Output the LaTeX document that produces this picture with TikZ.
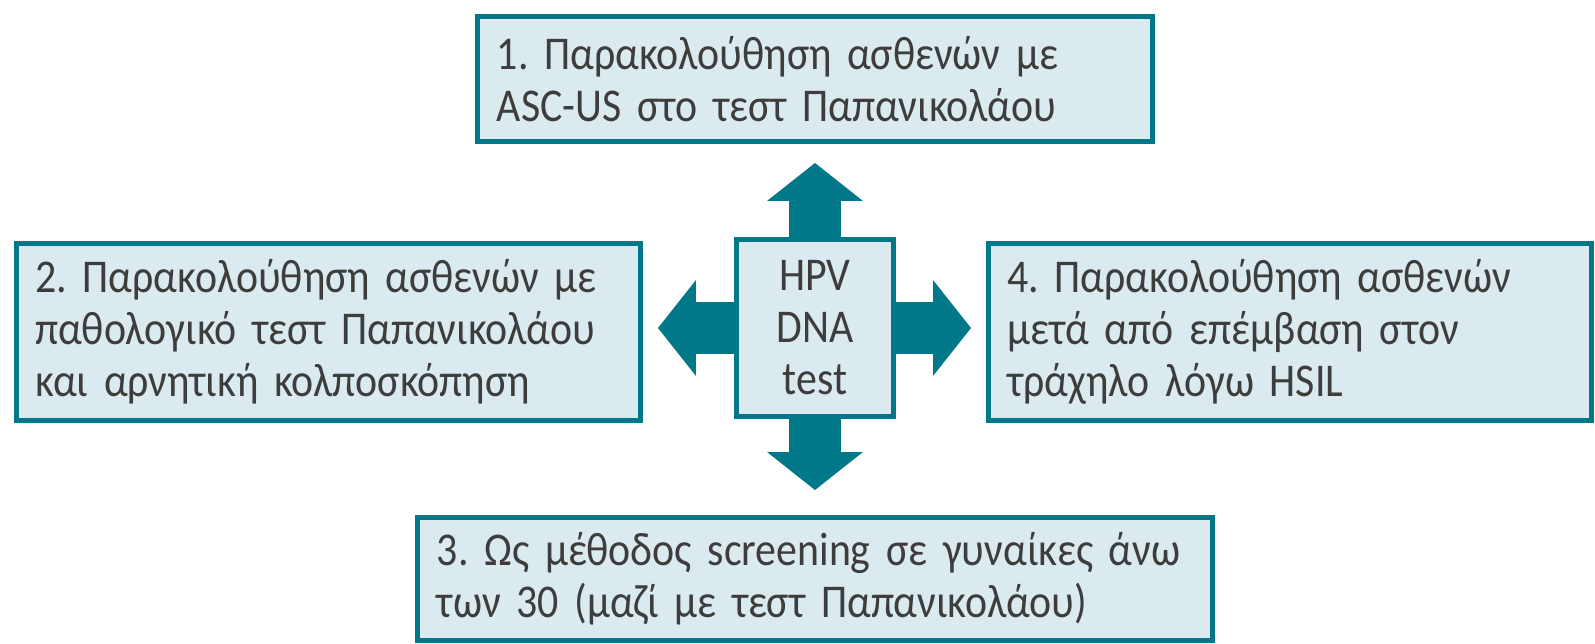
\documentclass[tikz,border=0pt]{standalone}
\usepackage{fontspec}
\setmainfont{Carlito}[FakeStretch=0.89]
\frenchspacing
\usepackage{tikz}
\usetikzlibrary{positioning}
\usetikzlibrary{arrows.meta,backgrounds}
\usepackage{xcolor}
\definecolor{tealline}{HTML}{00788A}
\definecolor{tealfill}{HTML}{DAEAEE}
\definecolor{greytext}{HTML}{3D3D3D}

\begin{document}
\begin{tikzpicture}[every node/.style={draw=tealline, fill=tealfill, line width=2.5pt, text=greytext, inner xsep=9.5pt, inner ysep=0pt, font=\fontsize{23.5}{26}\selectfont}, align=left, node distance=45pt,
	bigarrow/.style={tealline, line width=26pt, {Triangle[width=48pt,length=19pt,line width=0pt]}-{Triangle[width=48pt,length=19pt,line width=0pt]}}]
		
		\useasboundingbox (-407.5pt,-157.5pt) rectangle (390pt,164pt);
		
		%Nodes
		\node[minimum width=78.5pt, minimum height=88.5pt, align=center, inner xsep=0pt] (0) {HPV\\DNA\\test};
		\node[text width=318pt, minimum height=62.5pt] (1) [above=46.5pt of 0] {1. Παρακολούθηση ασθενών με\\ASC-US στο τεστ Παπανικολάου};
		\node[text width=293pt, minimum height=88.5pt] (2) [left=45.5pt of 0, yshift=-2pt] {2. Παρακολούθηση ασθενών με\\παθολογικό τεστ Παπανικολάου\\και αρνητική κολποσκόπηση};
		\node[text width=282.5pt, minimum height=88.5pt] (4) [right=of 0, yshift=-2pt] {4. Παρακολούθηση ασθενών\\μετά από επέμβαση στον\\τράχηλο λόγω HSIL};
		\node[text width=378pt, minimum height=61.5pt] (3) [below=48pt of 0] {3. Ως μέθοδος screening σε γυναίκες άνω\\των 30 (μαζί με τεστ Παπανικολάου)};
		
		%Arrow tips
		\coordinate[above=37pt of 0] (01);
		\coordinate[left=38pt of 0] (02);
		\coordinate[below=35.5pt of 0] (03);
		\coordinate[right=37.5pt of 0] (04);
		
		%Arrows
		\begin{scope}[on background layer]
			\draw[bigarrow] (02) -- (04);
			\draw[bigarrow] (01) -- (03);
		\end{scope}
	\end{tikzpicture}
\end{document}
